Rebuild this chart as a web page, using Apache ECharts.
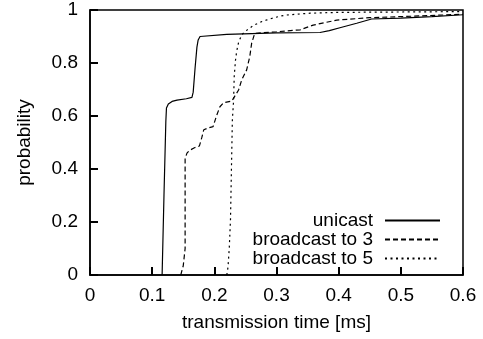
<!DOCTYPE html>
<html>
<head>
<meta charset="utf-8">
<script src="https://cdn.jsdelivr.net/npm/echarts@6/dist/echarts.min.js"></script>
<style>
  html, body { margin: 0; padding: 0; background: #fff; }
  #chart { width: 483px; height: 339px; }
</style>
</head>
<body>
<div id="chart"></div>
<script>
// Cumulative distribution of transmission times, [time in ms, probability]
const unicast = [
  [0.116, 0], [0.119, 0.3], [0.122, 0.58], [0.123, 0.63], [0.126, 0.645],
  [0.132, 0.655], [0.14, 0.66], [0.155, 0.665], [0.164, 0.67], [0.166, 0.69],
  [0.169, 0.78], [0.172, 0.86], [0.174, 0.887], [0.177, 0.9], [0.18, 0.906],
  [0.22, 0.908], [0.3, 0.914], [0.37, 0.915], [0.385, 0.922], [0.402, 0.933],
  [0.429, 0.95], [0.453, 0.966], [0.5, 0.969], [0.55, 0.975], [0.6, 0.982]
];
const broadcast3 = [
  [0.146, 0], [0.15, 0.035], [0.153, 0.1], [0.153, 0.44], [0.156, 0.46],
  [0.16, 0.47], [0.168, 0.48], [0.176, 0.487], [0.18, 0.52], [0.183, 0.548],
  [0.19, 0.555], [0.198, 0.56], [0.204, 0.604], [0.209, 0.635], [0.215, 0.65],
  [0.228, 0.656], [0.239, 0.698], [0.244, 0.736], [0.252, 0.774], [0.257, 0.824],
  [0.26, 0.874], [0.265, 0.912], [0.3, 0.918], [0.338, 0.925], [0.359, 0.943],
  [0.397, 0.962], [0.45, 0.971], [0.5, 0.975], [0.6, 0.984]
];
const broadcast5 = [
  [0.22, 0], [0.222, 0.03], [0.224, 0.1], [0.226, 0.21], [0.229, 0.585],
  [0.231, 0.66], [0.232, 0.75], [0.234, 0.81], [0.236, 0.845], [0.239, 0.878],
  [0.244, 0.906], [0.25, 0.92], [0.263, 0.942], [0.275, 0.955], [0.285, 0.963],
  [0.295, 0.97], [0.306, 0.977], [0.316, 0.981], [0.354, 0.988], [0.4, 0.991],
  [0.6, 0.994]
];
const seriesNames = ['unicast', 'broadcast to 3', 'broadcast to 5'];
const xTickLabels = ['0', '0.1', '0.2', '0.3', '0.4', '0.5', '0.6'];
const yTickLabels = ['0', '0.2', '0.4', '0.6', '0.8', '1'];

const FONT = 'Liberation Sans, Arial, Helvetica, sans-serif';
const FS = 19;

const chart = echarts.init(document.getElementById('chart'), null, { renderer: 'canvas' });
chart.setOption({
  animation: false,
  backgroundColor: '#fff',
  // the grid border closes the plot frame on the top and right
  grid: {
    left: 90, right: 20, top: 10, bottom: 64,
    show: true, borderColor: '#000', borderWidth: 1.5, backgroundColor: 'transparent'
  },
  legend: {
    orient: 'vertical',
    align: 'right',
    right: 42,
    top: 211,
    padding: 0,
    itemWidth: 55,
    itemHeight: 10,
    itemGap: 0,
    itemStyle: { opacity: 0, borderWidth: 0 },
    textStyle: { fontFamily: FONT, fontSize: FS, color: '#000', lineHeight: 19, padding: [0, 7, 0, 0] },
    data: seriesNames
  },
  xAxis: {
    type: 'value', min: 0, max: 0.6, interval: 0.1,
    name: 'transmission time [ms]', nameLocation: 'middle', nameGap: 38,
    nameTextStyle: { fontFamily: FONT, fontSize: FS, color: '#000' },
    axisLine: { show: true, lineStyle: { color: '#000', width: 1.5 } },
    axisTick: { show: true, inside: true, length: 8, lineStyle: { color: '#000', width: 2 } },
    splitLine: { show: false },
    axisLabel: {
      fontFamily: FONT, fontSize: FS, color: '#000', margin: 11,
      formatter: (v, i) => xTickLabels[i]
    }
  },
  yAxis: {
    type: 'value', min: 0, max: 1, interval: 0.2,
    name: 'probability', nameLocation: 'middle', nameGap: 56, nameRotate: 90,
    nameTextStyle: { fontFamily: FONT, fontSize: FS, color: '#000' },
    axisLine: { show: true, lineStyle: { color: '#000', width: 1.5 } },
    axisTick: { show: true, inside: true, length: 8, lineStyle: { color: '#000', width: 2 } },
    splitLine: { show: false },
    axisLabel: {
      fontFamily: FONT, fontSize: FS, color: '#000', margin: 12,
      formatter: (v, i) => yTickLabels[i]
    }
  },
  series: [
    {
      name: seriesNames[0], type: 'line', data: unicast, symbol: 'none', color: '#000',
      lineStyle: { color: '#000', width: 1.2, type: 'solid' }
    },
    {
      name: seriesNames[1], type: 'line', data: broadcast3, symbol: 'none', color: '#000',
      lineStyle: { color: '#000', width: 1.2, type: [5, 3] }
    },
    {
      name: seriesNames[2], type: 'line', data: broadcast5, symbol: 'none', color: '#000',
      lineStyle: { color: '#000', width: 1.2, type: [2, 3.5] }
    }
  ]
});
</script>
</body>
</html>
